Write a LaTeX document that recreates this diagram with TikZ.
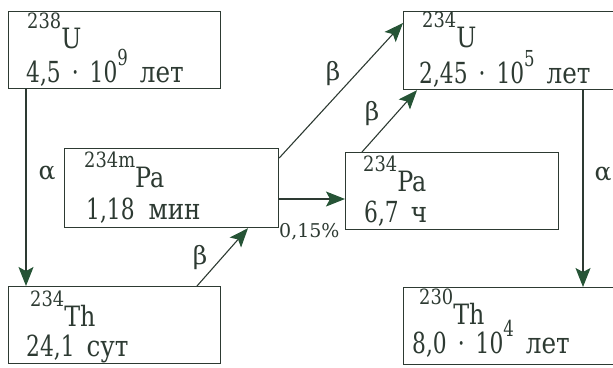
\documentclass[tikz,border=0pt]{standalone}
\usepackage{fontspec}
\setmainfont{DejaVu Serif}[FakeStretch=0.75]
\newfontfamily\tms{DejaVu Serif}[FakeStretch=0.75]
\newfontfamily\tmsA{DejaVu Serif}[FakeStretch=0.85]
\newfontfamily\grk{DejaVu Serif}
\usetikzlibrary{arrows.meta}
\definecolor{ink}{RGB}{45,58,50}
\definecolor{tipc}{RGB}{38,84,54}
% isotope mass number
\newcommand\iso[1]{\raisebox{20pt}{\fontsize{21pt}{21pt}\selectfont #1}}
% exponent
\newcommand\expo[1]{\raisebox{17pt}{\fontsize{22pt}{22pt}\selectfont #1}}
\newcommand\cyr[1]{{\tmsA #1}}
\begin{document}
\begin{tikzpicture}[x=1pt,y=-1pt,
 box/.style={draw=ink,line width=1.2pt,inner sep=0,anchor=north west},
 txta/.style={anchor=base west,inner sep=0,text=ink,font=\tmsA\fontsize{28pt}{28pt}\selectfont},
 txtb/.style={anchor=base west,inner sep=0,text=ink,font=\tms\fontsize{29pt}{29pt}\selectfont},
 lbl/.style={text=ink,font=\grk\fontsize{25pt}{25pt}\selectfont,inner sep=0},
 conn/.style={draw=ink,line width=1.1pt},
 arr/.style={conn,-{Stealth[length=19pt,width=15pt,inset=4pt,fill=tipc,color=tipc]}}]
\useasboundingbox (0,0) rectangle (613,367);
\clip (0,0) rectangle (613,367);
% boxes
\node[box,minimum width=212pt,minimum height=77pt] (bU238) at (8,11) {};
\node[box,minimum width=230pt,minimum height=78pt] (bU234) at (403,11) {};
\node[box,minimum width=214pt,minimum height=79pt] (bPam) at (64,148) {};
\node[box,minimum width=213pt,minimum height=77pt] (bPa) at (345,152) {};
\node[box,minimum width=212pt,minimum height=77pt] (bTh234) at (8,286) {};
\node[box,minimum width=230pt,minimum height=77pt] (bTh230) at (403,287) {};
% texts
\node[txta] (tU238a) at (27,48) {\iso{238}U};
\node[txtb] (tU238b) at (26,82) {4,5\hspace{11pt}·\hspace{11pt}10\expo{9}\hspace{12pt}\cyr{лет}};
\node[txta] (tU234a) at (422,47) {\iso{234}U};
\node[txtb] (tU234b) at (419,83) {2,45\hspace{11pt}·\hspace{11pt}10\expo{5}\hspace{12pt}\cyr{лет}};
\node[txta] (tPama) at (84,187) {\iso{234m}Pa};
\node[txtb] (tPamb) at (86,219) {1,18\hspace{14pt}\cyr{мин}};
\node[txta] (tPaa) at (363,191) {\iso{234}Pa};
\node[txtb] (tPab) at (364,222) {6,7\hspace{12pt}\cyr{ч}};
\node[txta] (tTha) at (30,326) {\iso{234}Th};
\node[txtb] (tThb) at (26,356) {24,1\hspace{12pt}\cyr{сут}};
\node[txta] (tTh2a) at (419,324) {\iso{230}Th};
\node[txtb] (tTh2b) at (412,353) {8,0\hspace{11pt}·\hspace{11pt}10\expo{4}\hspace{12pt}\cyr{лет}};
% connectors
\draw[arr] ([xshift=18pt]bU238.south west) -- ([xshift=18pt]bTh234.north west);
\node[lbl] (la1) at (47,173) {α};
\draw[arr] ([xshift=189pt]bTh234.north west) -- ([xshift=184pt]bPam.south west);
\node[lbl] (lb1) at (200,258) {β};
\draw[arr] ([yshift=-10pt]bPam.north east) -- ([yshift=-12pt]bU234.north west);
\node[lbl] (lb2) at (333,74) {β};
\draw[arr] ([yshift=-51pt]bPam.north east) -- ([yshift=-47pt]bPa.north west);
\node[anchor=base west,inner sep=0,text=ink,font=\grk\fontsize{19pt}{19pt}\selectfont] (lpct) at (279,237) {0,15\%};
\draw[arr] ([xshift=17pt]bPa.north west) -- ([xshift=14pt]bU234.south west);
\node[lbl] (lb3) at (372,114) {β};
\draw[arr] ([xshift=180pt]bU234.south west) -- ([xshift=180pt]bTh230.north west);
\node[lbl] (la2) at (603,174) {α};
\end{tikzpicture}
\end{document}
